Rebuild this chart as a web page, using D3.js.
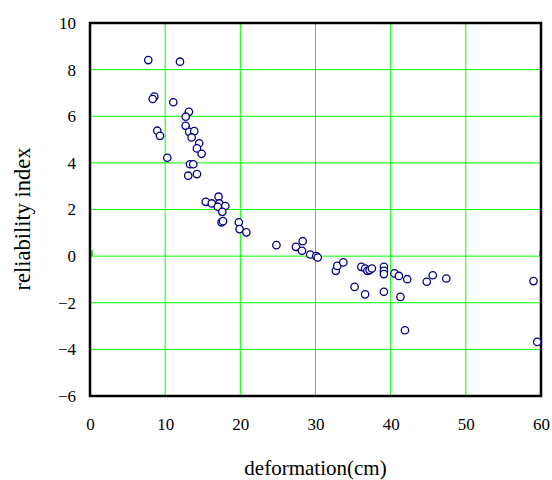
<!DOCTYPE html>
<html>
<head>
<meta charset="utf-8">
<script src="https://cdn.jsdelivr.net/npm/d3@7"></script>
<style>
  body { margin: 0; background: #fff; }
  svg text { font-family: "Liberation Serif", "Times New Roman", serif !important; fill: #000; }
</style>
</head>
<body>
<div class="chart"></div>
<script>
// deformation (cm) and reliability index
const deformation = [
  7.75, 11.97, 8.55, 8.34, 11.08, 13.16, 12.73, 12.73, 13.2, 13.87, 13.52,
  8.95, 9.31, 14.53, 14.23, 14.85, 10.28, 13.3, 13.74, 13.07, 14.23,
  15.4, 16.2, 17.1, 17.2, 17.0, 18.0, 17.6, 17.5, 17.7, 19.8, 19.9, 20.8,
  24.8, 27.4, 28.3, 28.2, 29.3, 30.1, 30.3, 32.7, 32.9, 33.7, 35.2,
  36.1, 36.6, 36.9, 37.2, 37.5, 39.1, 39.1, 39.1, 40.5, 41.1, 42.2,
  44.8, 45.6, 47.4, 36.6, 39.1, 41.3, 41.9, 59.0, 59.5
];
const reliability = [
  8.41, 8.34, 6.84, 6.74, 6.6, 6.19, 5.98, 5.59, 5.33, 5.36, 5.09,
  5.38, 5.16, 4.84, 4.62, 4.39, 4.22, 3.94, 3.94, 3.45, 3.52,
  2.33, 2.26, 2.55, 2.26, 2.12, 2.15, 1.9, 1.45, 1.5, 1.45, 1.16, 1.02,
  0.47, 0.4, 0.64, 0.23, 0.07, 0.0, -0.06, -0.63, -0.42, -0.27, -1.32,
  -0.46, -0.53, -0.63, -0.6, -0.53, -0.46, -0.63, -0.77, -0.74, -0.85, -0.99,
  -1.1, -0.82, -0.96, -1.64, -1.53, -1.75, -3.18, -1.07, -3.68
];
const xTicks = [0, 10, 20, 30, 40, 50, 60];
const yTicks = [-6, -4, -2, 0, 2, 4, 6, 8, 10];

const data = deformation.map((d, i) => ({x: d, y: reliability[i]}));

const width = 552, height = 480;
const margin = ({top: 23, right: 11, bottom: 84, left: 90});
const serif = '"Liberation Serif", "Times New Roman", serif';

const svg = d3.select(".chart")
  .append("svg")
  .attr("width", width)
  .attr("height", height);

const xScale = d3.scaleLinear()
  .domain([0, 60])
  .range([margin.left, width - margin.right]);

const yScale = d3.scaleLinear()
  .domain([-6, 10])
  .range([height - margin.bottom, margin.top]);

// grid
svg.append("g")
  .selectAll("line")
  .data(xTicks.slice(1, -1))
  .join("line")
  .attr("x1", d => xScale(d)).attr("x2", d => xScale(d))
  .attr("y1", yScale(10)).attr("y2", yScale(-6))
  .attr("stroke", "#00ff00")
  .attr("stroke-width", 1);

svg.append("g")
  .selectAll("line")
  .data(yTicks.slice(1, -1))
  .join("line")
  .attr("x1", xScale(0)).attr("x2", xScale(60))
  .attr("y1", d => yScale(d)).attr("y2", d => yScale(d))
  .attr("stroke", "#00ff00")
  .attr("stroke-width", 1);

// small marks at the ends of the zero line
svg.append("g")
  .selectAll("line")
  .data([0, 60])
  .join("line")
  .attr("x1", d => xScale(d) + (d === 0 ? 2 : -1)).attr("x2", d => xScale(d) + (d === 0 ? 2 : -1))
  .attr("y1", yScale(0)).attr("y2", yScale(0) - 6)
  .attr("stroke", "#00cc00")
  .attr("stroke-width", 1.5);

// frame
svg.append("rect")
  .attr("x", xScale(0))
  .attr("y", yScale(10))
  .attr("width", xScale(60) - xScale(0))
  .attr("height", yScale(-6) - yScale(10))
  .attr("fill", "none")
  .attr("stroke", "black")
  .attr("stroke-width", 2.5);

// axes (labels only)
const yAxis = d3.axisLeft(yScale).tickValues(yTicks).tickSize(0).tickPadding(14);
svg.append("g")
  .attr("class", "axis y-axis")
  .attr("transform", `translate(${xScale(0)},0)`)
  .call(yAxis)
  .attr("font-family", serif)
  .attr("font-size", 17)
  .call(g => g.select(".domain").remove())
  .call(g => g.selectAll("text").style("font-family", serif).style("font-size", "17px"));

const xAxis = d3.axisBottom(xScale).tickValues(xTicks).tickSize(0).tickPadding(22);
svg.append("g")
  .attr("class", "axis x-axis")
  .attr("transform", `translate(0,${yScale(-6)})`)
  .call(xAxis)
  .attr("font-family", serif)
  .attr("font-size", 17)
  .call(g => g.select(".domain").remove())
  .call(g => g.selectAll("text").style("font-family", serif).style("font-size", "17px"));

// titles
svg.append("text")
  .text("deformation(cm)")
  .attr("x", (xScale(0) + xScale(60)) / 2)
  .attr("y", 475)
  .attr("text-anchor", "middle")
  .style("font-family", serif)
  .style("font-size", "21px");

svg.append("text")
  .text("reliability index")
  .attr("transform", "translate(30,219) rotate(-90)")
  .attr("text-anchor", "middle")
  .style("font-family", serif)
  .style("font-size", "22.5px");

// points
svg.append("g")
  .selectAll("circle")
  .data(data)
  .join("circle")
  .attr("cx", d => xScale(d.x))
  .attr("cy", d => yScale(d.y))
  .attr("r", 3.7)
  .attr("fill", "white")
  .attr("stroke", "#000080")
  .attr("stroke-width", 1.3);
</script>
</body>
</html>
